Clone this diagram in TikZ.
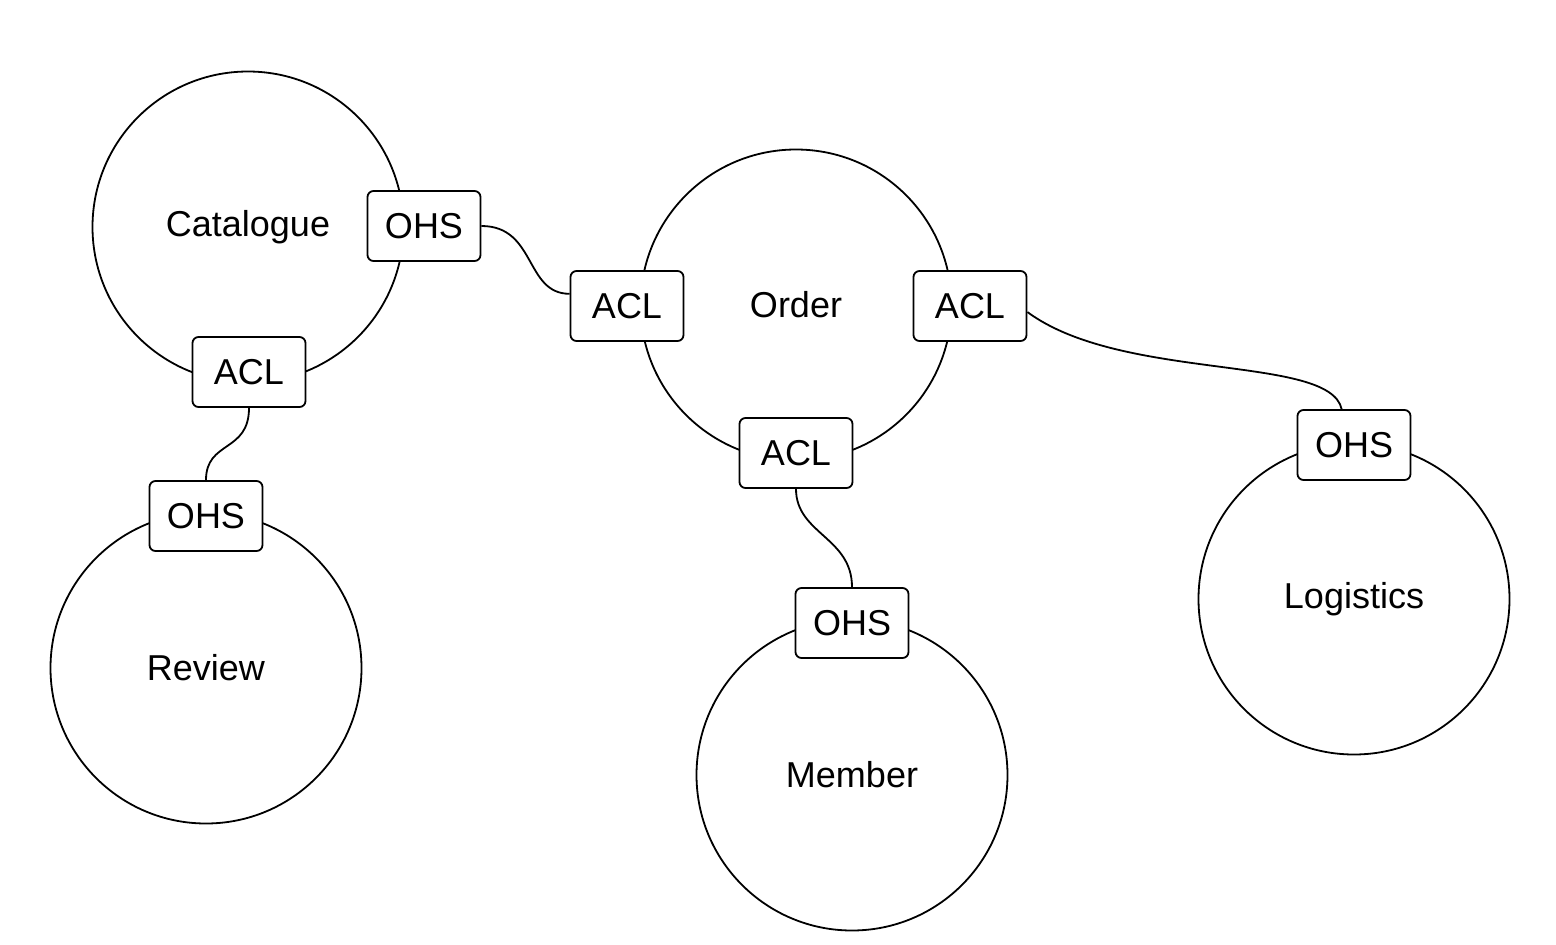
\documentclass[tikz,border=0pt]{standalone}
\usepackage{fontspec}
\setmainfont{Liberation Sans}
\usepackage{tikz}
\usetikzlibrary{positioning}

\begin{document}
\begin{tikzpicture}[x=1pt,y=-1pt,line width=1.8pt,
    ctx/.style={circle,draw,minimum size=311pt,inner sep=0pt,font=\fontsize{36}{40}\selectfont},
    port/.style={draw,fill=white,rounded corners=6pt,minimum width=113pt,minimum height=70pt,inner sep=0pt,font=\fontsize{36}{40}\selectfont}]
      \useasboundingbox (0,0) rectangle (1556,945);
      % contexts
      \node[ctx](catalogue) at (248,227){Catalogue};
      \node[ctx](review) at (206,668){Review};
      \node[ctx](order) at (796,305){Order};
      \node[ctx](member) at (852,775){Member};
      \node[ctx](logistics) at (1354,599){Logistics};
      % ports
      \node[port](catohs) at (424,226){OHS};
      \node[port](catacl) at (249,372){ACL};
      \node[port](revohs) at (206,516){OHS};
      \node[port](ordacll) at (627,306){ACL};
      \node[port](ordaclr) at (970,306){ACL};
      \node[port](ordaclb) at (796,453){ACL};
      \node[port](memohs) at (852,623){OHS};
      \node[port](logohs) at (1354,445){OHS};
      % links
      \draw (catohs.east) .. controls +(55,0) and +(-45,0) .. (ordacll.168);
      \draw (catacl.south) .. controls +(0,45) and +(0,-40) .. (revohs.north);
      \draw (ordaclb.south) .. controls +(0,45) and +(0,-50) .. (memohs.north);
      \draw (ordaclr.-6) .. controls +(95,70) and +(-12,-55) .. (logohs.109);
    \end{tikzpicture}
\end{document}
